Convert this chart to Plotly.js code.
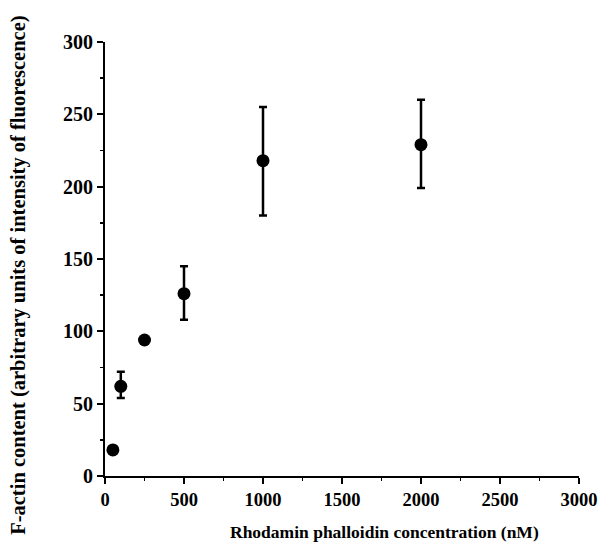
<!DOCTYPE html>
<html>
<head>
<meta charset="utf-8">
<script src="https://cdn.plot.ly/plotly-3.0.1.min.js"></script>
<style>
  html, body { margin: 0; padding: 0; background: #fff; }
  #chart { width: 612px; height: 552px; }
</style>
</head>
<body>
<div id="chart"></div>
<script>
// Rhodamin phalloidin concentration (nM)
const concentration = [50, 100, 250, 500, 1000, 2000];
// F-actin content (arbitrary units of fluorescence intensity)
const factin = [18, 62, 94, 126, 218, 229];
// Error bar extents above / below each mean (0 = no bar drawn)
const errUp = [0, 10, 0, 19, 37, 31];
const errDown = [0, 8, 0, 18, 38, 30];

const xTicks = [0, 500, 1000, 1500, 2000, 2500, 3000];
const yTicks = [0, 50, 100, 150, 200, 250, 300];

const xTitle = 'Rhodamin phalloidin concentration (nM)';
const yTitle = 'F-actin content (arbitrary units of intensity of fluorescence)';

const serif = 'Liberation Serif, Times New Roman, serif';
const bold = v => '<b>' + v + '</b>';

const trace = {
  x: concentration,
  y: factin,
  type: 'scatter',
  mode: 'markers',
  marker: { color: '#000', size: 13 },
  error_y: {
    type: 'data',
    symmetric: false,
    array: errUp,
    arrayminus: errDown,
    color: '#000',
    thickness: 2.5,
    width: 4
  },
  hoverinfo: 'x+y',
  showlegend: false
};

const axisCommon = {
  ticks: 'outside',
  ticklen: 6,
  tickwidth: 2,
  tickcolor: '#000',
  showline: true,
  linecolor: '#000',
  linewidth: 2,
  showgrid: false,
  zeroline: false
};

const layout = {
  width: 612,
  height: 552,
  margin: { l: 105, r: 33, t: 42, b: 76 },
  paper_bgcolor: '#fff',
  plot_bgcolor: '#fff',
  font: { family: serif, color: '#000' },
  xaxis: Object.assign({}, axisCommon, {
    range: [0, 3000],
    tickvals: xTicks,
    ticktext: xTicks.map(bold),
    minor: { dtick: 250, tick0: 0, ticks: 'outside', ticklen: 3, tickwidth: 1.5, tickcolor: '#000' },
    tickfont: { family: serif, size: 18.5, color: '#000' }
  }),
  yaxis: Object.assign({}, axisCommon, {
    range: [0, 300],
    tickvals: yTicks,
    ticktext: yTicks.map(bold),
    minor: { dtick: 25, tick0: 0, ticks: 'outside', ticklen: 3, tickwidth: 1.5, tickcolor: '#000' },
    tickfont: { family: serif, size: 20, color: '#000' }
  }),
  // Axis titles, placed as paper-anchored text
  annotations: [
    {
      text: bold(xTitle),
      xref: 'paper', yref: 'paper',
      x: 0.589, y: -0.13,
      xanchor: 'center', yanchor: 'middle',
      showarrow: false,
      font: { family: serif, size: 17.5, color: '#000' }
    },
    {
      text: bold(yTitle),
      xref: 'paper', yref: 'paper',
      x: -0.184, y: 0.463,
      xanchor: 'center', yanchor: 'middle',
      textangle: -90,
      showarrow: false,
      font: { family: serif, size: 20.5, color: '#000' }
    }
  ]
};

Plotly.newPlot('chart', [trace], layout, { staticPlot: true, displayModeBar: false });
</script>
</body>
</html>
